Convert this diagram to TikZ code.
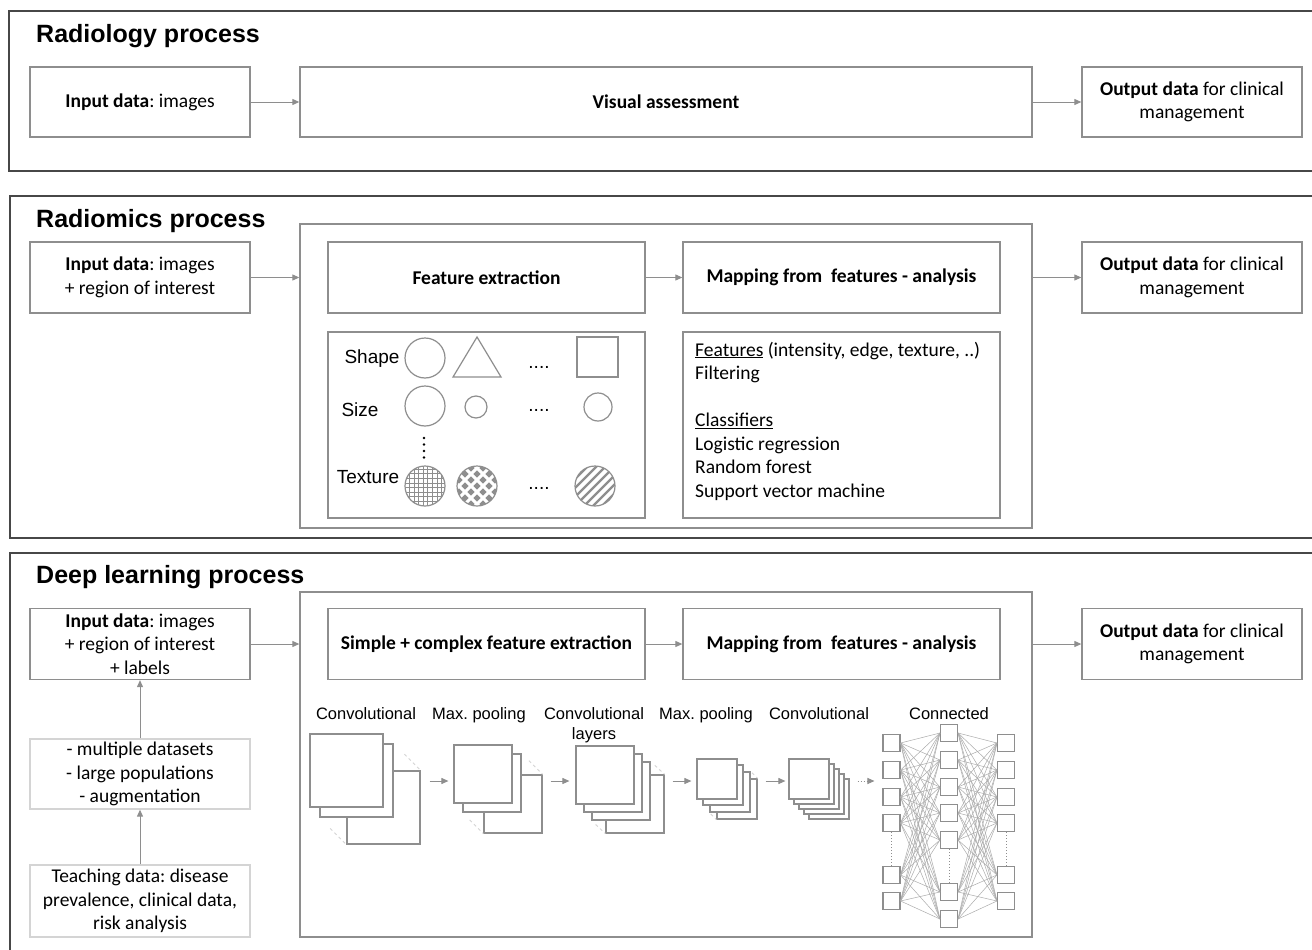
\documentclass[tikz,border=0pt]{standalone}
\usepackage{fontspec}
\setmainfont{Carlito}
\newfontfamily\arialfont{Liberation Sans}
\usetikzlibrary{arrows.meta,calc}
\frenchspacing

\definecolor{framegray}{HTML}{474747}
\definecolor{boxgray}{HTML}{8E8E8E}
\definecolor{palegray}{HTML}{D4D4D4}
\definecolor{linkgray}{HTML}{ABABAB}

\tikzset{
  frame/.style={draw=framegray, line width=1.6pt},
  title/.style={font=\arialfont\bfseries\fontsize{25}{29}\selectfont, anchor=base west, inner sep=0pt},
  box/.style={draw=boxgray, line width=1.3pt, fill=white, align=center, inner sep=0pt,
    font=\fontsize{19.5}{23.5}\selectfont},
  palebox/.style={box, draw=palegray},
  arr/.style={draw=boxgray, line width=1pt, -{Triangle[length=7pt,width=6pt]}},
  fmap/.style={draw=boxgray, line width=1.2pt, fill=white, inner sep=0pt},
  unit/.style={draw=boxgray, line width=1.1pt, fill=white, minimum size=17pt, inner sep=0pt},
  link/.style={draw=linkgray, line width=0.5pt},
  depth/.style={draw=palegray, line width=0.9pt, dashed},
  layer/.style={font=\arialfont\fontsize{16.5}{20}\selectfont, inner sep=0pt, anchor=base, align=center},
  feat/.style={font=\arialfont\fontsize{19}{22}\selectfont, inner sep=0pt},
  figline/.style={draw=boxgray, line width=1.2pt},
}

\begin{document}
\begin{tikzpicture}[x=1pt, y=-1pt]
	\useasboundingbox (0,0) rectangle (1312,950);
	% rahmen
	\draw[frame] (1312,11) -- (9,11) -- (9,171) -- (1312,171);
	\draw[frame] (1312,196) -- (10,196) -- (10,538) -- (1312,538);
	\draw[frame] (1312,553) -- (10,553) -- (10,950);
	% titel
	\node[title] (t1) at (36,43) {Radiology process};
	\node[title] (t2) at (36,227) {Radiomics process};
	\node[title] (t3) at (36,583) {Deep learning process};

	% radiologie
	\node[box, minimum width=220pt, minimum height=70pt] (in1) at (140,102) {\textbf{Input data}: images};
	\node[box, minimum width=732pt, minimum height=70pt] (vis) at (666,102) {\textbf{Visual assessment}};
	\node[box, minimum width=220pt, minimum height=70pt] (out1) at (1192,102) {\textbf{Output data} for clinical\\management};
	\draw[arr] (in1) -- (vis);
	\draw[arr] (vis) -- (out1);

	% radiomics
	\node[box, minimum width=220pt, minimum height=71pt] (in2) at (140,277.5) {\textbf{Input data}: images\\+ region of interest};
	\node[box, minimum width=732pt, minimum height=304pt] (rad) at (666,376) {};
	\node[box, minimum width=317pt, minimum height=71pt] (fx2) at (486.5,277.5) {\textbf{Feature extraction}};
	\node[box, minimum width=317pt, minimum height=71pt] (map2) at (841.5,277.5) {\textbf{Mapping from\ \ features - analysis}};
	\node[box, minimum width=317pt, minimum height=186pt] (shapes) at (486.5,425) {};
	\node[box, minimum width=317pt, minimum height=186pt] (clf) at (841.5,425) {};
	\node[box, minimum width=220pt, minimum height=71pt] (out2) at (1192,277.5) {\textbf{Output data} for clinical\\management};
	\draw[arr] (in2.east) -- (in2.east -| rad.west);
	\draw[arr] (fx2) -- (map2);
	\draw[arr] (rad.east |- out2.west) -- (out2.west);

	% merkmale links
	\node[feat] (shp) at (372,359) {Shape};
	\draw[figline] (425,358) circle (20pt);
	\draw[figline] (453,377) -- (477,337) -- (501,377) -- cycle;
	\node[feat] (dots1) at (539,367) {....};
	\draw[figline] (577,337) rectangle (618,377);
	\node[feat] (siz) at (360,410) {Size};
	\draw[figline] (425,406) circle (20pt);
	\draw[figline] (476,407) circle (11pt);
	\node[feat] (dots2) at (539,410.5) {....};
	\draw[figline] (598,407) circle (14pt);
	\foreach \y in {438,444.5,451,457.5}
		\fill (424,\y) circle (1.4pt);
	\node[feat] (tex) at (368,477) {Texture};
	\begin{scope}
		\clip (425,486) circle (20pt);
		\draw[boxgray, line width=0.8pt, step=4.6pt] (400,461) grid (450,511);
	\end{scope}
	\draw[figline] (425,486) circle (20pt);
	\begin{scope}
		\clip (477,486) circle (20pt);
		\foreach \i in {-2,...,2}
			\foreach \j in {-2,...,2} {
				\fill[boxgray] ({477+12*\i},{486+12*\j}) +(-3.7,0) -- +(0,-3.7) -- +(3.7,0) -- +(0,3.7) -- cycle;
				\fill[boxgray] ({483+12*\i},{492+12*\j}) +(-3.7,0) -- +(0,-3.7) -- +(3.7,0) -- +(0,3.7) -- cycle;
			}
	\end{scope}
	\draw[figline] (477,486) circle (20pt);
	\node[feat] (dots3) at (539,488) {....};
	\begin{scope}
		\clip (595,486) circle (20pt);
		\foreach \k in {-5,...,5}
			\draw[boxgray, line width=2.4pt] ({570+9*\k},511) -- ({620+9*\k},461);
	\end{scope}
	\draw[figline] (595,486) circle (20pt);

	% merkmale rechts
	\node[anchor=base west, align=left, inner sep=0pt, font=\fontsize{19.5}{23.5}\selectfont] (clftext) at (695,497)
		{\underline{Features} (intensity, edge, texture, ..)\\Filtering\\[23.5pt]\underline{Classifiers}\\Logistic regression\\Random forest\\Support vector machine};

	% deep learning
	\node[box, minimum width=220pt, minimum height=71pt] (in3) at (140,644) {\textbf{Input data}: images\\+ region of interest\\+ labels};
	\node[palebox, minimum width=220pt, minimum height=70pt] (aug) at (140,774) {- multiple datasets\\- large populations\\- augmentation};
	\node[palebox, minimum width=220pt, minimum height=72pt] (teach) at (140,901) {Teaching data: disease\\prevalence, clinical data,\\risk analysis};
	\node[box, minimum width=732pt, minimum height=345pt] (dl) at (666,764.5) {};
	\node[box, minimum width=317pt, minimum height=71pt] (sfx) at (486.5,644) {\textbf{Simple + complex feature extraction}};
	\node[box, minimum width=317pt, minimum height=71pt] (map3) at (841.5,644) {\textbf{Mapping from\ \ features - analysis}};
	\node[box, minimum width=220pt, minimum height=71pt] (out3) at (1192,644) {\textbf{Output data} for clinical\\management};
	\draw[arr] (teach) -- (aug);
	\draw[arr] (aug) -- (in3);
	\draw[arr] (in3.east) -- (in3.east -| dl.west);
	\draw[arr] (sfx) -- (map3);
	\draw[arr] (dl.east |- out3.west) -- (out3.west);

	% schichten beschriftung
	\node[layer] (lc1) at (366,719) {Convolutional};
	\node[layer] (lp1) at (479,719) {Max. pooling};
	\node[layer] (lc2) at (594,739) {Convolutional\\layers};
	\node[layer] (lp2) at (706,719) {Max. pooling};
	\node[layer] (lc3) at (819,719) {Convolutional};
	\node[layer] (lfc) at (949,719) {Connected};

	% conv 1
	\node[fmap, minimum width=73pt, minimum height=73pt] (c1c) at (383.5,807.5) {};
	\node[fmap, minimum width=73pt, minimum height=73pt] (c1b) at (356.5,780.5) {};
	\node[fmap, minimum width=73pt, minimum height=73pt] (c1a) at (346.5,770.5) {};
	\draw[depth] ($(c1b.north east)!0.4!(c1c.north east)$) -- (c1c.north east);
	\draw[depth] ($(c1b.south west)!0.4!(c1c.south west)$) -- (c1c.south west);
	% pooling 1
	\node[fmap, minimum width=58pt, minimum height=58pt] (p1c) at (513,804) {};
	\node[fmap, minimum width=58pt, minimum height=58pt] (p1b) at (492,783) {};
	\node[fmap, minimum width=58pt, minimum height=58pt] (p1a) at (483,774) {};
	\draw[depth] ($(p1b.north east)!0.35!(p1c.north east)$) -- (p1c.north east);
	\draw[depth] ($(p1b.south west)!0.35!(p1c.south west)$) -- (p1c.south west);
	% conv 2
	\node[fmap, minimum width=58pt, minimum height=58pt] (c2d) at (635,804) {};
	\node[fmap, minimum width=58pt, minimum height=58pt] (c2c) at (621,791) {};
	\node[fmap, minimum width=58pt, minimum height=58pt] (c2b) at (613,783) {};
	\node[fmap, minimum width=58pt, minimum height=58pt] (c2a) at (605,775) {};
	\draw[depth] ($(c2c.north east)!0.3!(c2d.north east)$) -- (c2d.north east);
	\draw[depth] ($(c2c.south west)!0.3!(c2d.south west)$) -- (c2d.south west);
	% pooling 2
	\node[fmap, minimum width=40pt, minimum height=40pt] (p2d) at (737,799) {};
	\node[fmap, minimum width=40pt, minimum height=40pt] (p2c) at (730,792) {};
	\node[fmap, minimum width=40pt, minimum height=40pt] (p2b) at (723,785) {};
	\node[fmap, minimum width=40pt, minimum height=40pt] (p2a) at (717,779) {};
	\draw[depth] ($(p2c.north east)!0.2!(p2d.north east)$) -- (p2d.north east);
	\draw[depth] ($(p2c.south west)!0.2!(p2d.south west)$) -- (p2d.south west);
	% conv 3
	\node[fmap, minimum width=40pt, minimum height=40pt] (c3e) at (829,799) {};
	\node[fmap, minimum width=40pt, minimum height=40pt] (c3d) at (824,794) {};
	\node[fmap, minimum width=40pt, minimum height=40pt] (c3c) at (819,789) {};
	\node[fmap, minimum width=40pt, minimum height=40pt] (c3b) at (814,784) {};
	\node[fmap, minimum width=40pt, minimum height=40pt] (c3a) at (809,779) {};

	% voll verbunden
	\foreach \y [count=\i] in {743,770,797,823,875,901} {
		\node[unit] (l\i) at (891.5,\y) {};
		\node[unit] (r\i) at (1006,\y) {};
	}
	\foreach \y [count=\j] in {733,760,787,813,840,892,919}
		\node[unit] (m\j) at (949,\y) {};
	\foreach \i in {1,...,6}
		\foreach \j in {1,...,7} {
			\draw[link] (l\i.east) -- (m\j.west);
			\draw[link] (m\j.east) -- (r\i.west);
		}
	\draw[boxgray, dotted, line width=1pt] (l4) -- (l5);
	\draw[boxgray, dotted, line width=1pt] (m5) -- (m6);
	\draw[boxgray, dotted, line width=1pt] (r4) -- (r5);

	% pfeile zwischen schichten
	\draw[arr, shorten <=9pt, shorten >=5pt] (c1c.east |- 0,781) -- (p1a.west |- 0,781);
	\draw[arr, shorten <=8pt, shorten >=6pt] (p1c.east |- 0,781) -- (c2a.west |- 0,781);
	\draw[arr, shorten <=8pt, shorten >=5pt] (c2d.east |- 0,781) -- (p2a.west |- 0,781);
	\draw[arr, shorten <=8pt, shorten >=3pt] (p2d.east |- 0,781) -- (c3a.west |- 0,781);
	\draw[arr, dotted, shorten <=8pt, shorten >=8pt] (c3e.east |- 0,781) -- (l2.west |- 0,781);
\end{tikzpicture}
\end{document}
